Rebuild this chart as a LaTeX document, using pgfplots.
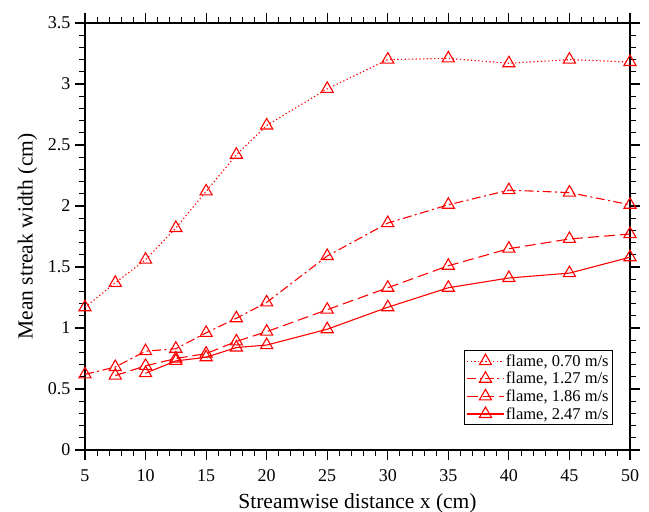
\documentclass[border=0pt]{standalone}
\usepackage{fontspec}
\setmainfont{Liberation Serif}
\usepackage{pgfplots}
\pgfplotsset{compat=1.18}
\begin{document}
\begin{tikzpicture}
\begin{axis}[
  name=ax,
  scale only axis,
  width=545bp, height=427bp,
  xmin=5, xmax=50, ymin=0, ymax=3.5,
  xtick={5,10,...,50},
  ytick={0,0.5,...,3.5},
  minor x tick num=4,
  minor y tick num=4,
  tick align=outside,
  xtick pos=both, ytick pos=both,
  major tick length=10bp, minor tick length=5.5bp,
  major tick style={black, line width=1.2pt},
  minor tick style={black, line width=1pt},
  axis line style={line width=1.1pt},
  /pgf/number format/assume math mode=true,
  yticklabel style={/pgf/number format/fixed, xshift=-1bp},
  xticklabel style={yshift=-6bp},
  tick label style={font=\fontsize{18bp}{20bp}\selectfont},
  xlabel={Streamwise distance x (cm)},
  ylabel={Mean streak width (cm)},
  label style={font=\fontsize{21.5bp}{23bp}\selectfont},
  xlabel style={at={(ticklabel cs:0.5)}, yshift=-5bp},
  ylabel style={at={(ticklabel cs:0.5)}, yshift=4bp},
  legend style={at={(0.969,0.234)}, anchor=north east, draw=black, line width=1pt,
    nodes={font=\fontsize{16.5bp}{18bp}\selectfont, inner sep=1.5bp}, row sep=1.5bp, inner sep=2.5bp},
  legend cell align=left,
  legend image code/.code={
    \draw[mark repeat=2,mark phase=2] plot coordinates {(0cm,0cm) (0.65cm,0cm) (1.3cm,0cm)};
  },
]
\addplot[red, line width=1.1pt, mark=triangle, mark size=7bp, mark options={solid, line width=1.1pt},
  dash pattern=on 1.3pt off 2.4pt] coordinates {
(5,1.17) (7.5,1.37) (10,1.56) (12.5,1.82) (15,2.12) (17.5,2.42) (20,2.66) (25,2.96) (30,3.20) (35,3.21) (40,3.17) (45,3.20) (50,3.18)};
\addlegendentry{flame, 0.70 m/s}
\addplot[red, line width=1.1pt, mark=triangle, mark size=7bp, mark options={solid, line width=1.1pt},
  dash pattern=on 9pt off 3.5pt on 2pt off 3.5pt] coordinates {
(5,0.62) (7.5,0.68) (10,0.81) (12.5,0.83) (15,0.96) (17.5,1.08) (20,1.21) (25,1.59) (30,1.86) (35,2.01) (40,2.13) (45,2.11) (50,2.01)};
\addlegendentry{flame, 1.27 m/s}
\addplot[red, line width=1.1pt, mark=triangle, mark size=7bp, mark options={solid, line width=1.1pt},
  dash pattern=on 11pt off 5pt] coordinates {
(7.5,0.61) (10,0.69) (12.5,0.75) (15,0.79) (17.5,0.89) (20,0.97) (25,1.15) (30,1.33) (35,1.51) (40,1.65) (45,1.73) (50,1.77)};
\addlegendentry{flame, 1.86 m/s}
\addplot[red, line width=1.1pt, mark=triangle, mark size=7bp, mark options={solid, line width=1.1pt},
  solid] coordinates {
(10,0.63) (12.5,0.73) (15,0.76) (17.5,0.84) (20,0.86) (25,0.99) (30,1.17) (35,1.33) (40,1.41) (45,1.45) (50,1.58)};
\addlegendentry{flame, 2.47 m/s}
\end{axis}
\pgfresetboundingbox
\path ([xshift=-85bp,yshift=-62bp]ax.south west) rectangle ([xshift=19bp,yshift=23bp]ax.north east);
\end{tikzpicture}
\end{document}
